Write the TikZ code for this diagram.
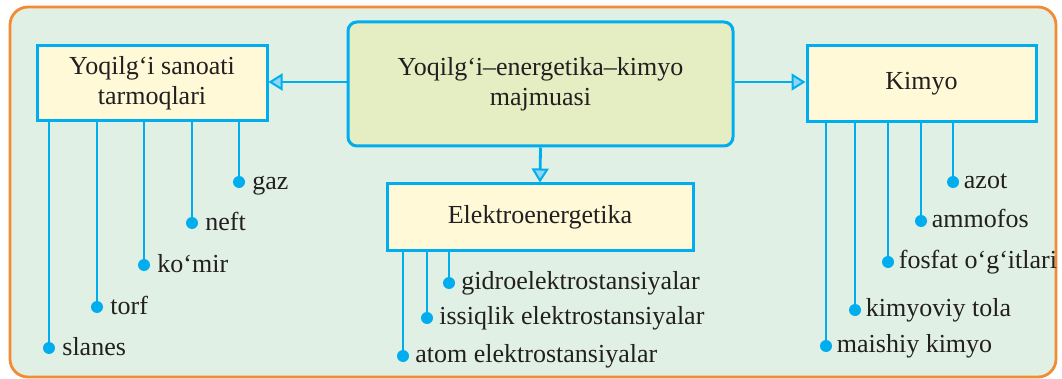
\documentclass[tikz,border=0pt]{standalone}
\usepackage{fontspec}
\setmainfont{Liberation Serif}
\newfontfamily\tms{Liberation Serif}
\usetikzlibrary{arrows.meta}
\definecolor{frameor}{HTML}{F28C33}
\definecolor{bgg}{HTML}{E1F0E5}
\definecolor{boxy}{HTML}{FFF9D7}
\definecolor{midg}{HTML}{E5EDC3}
\definecolor{cy}{HTML}{00AEEF}
\definecolor{arrf}{HTML}{8FD6F4}
\definecolor{txt}{HTML}{231F20}
\tikzset{
  box/.style={draw=cy, line width=3pt, fill=boxy, align=center, inner sep=0pt, text=txt, font=\tms\fontsize{26}{30}\selectfont},
  midbox/.style={box, fill=midg, rounded corners=9pt},
  conn/.style={draw=cy, line width=2.8pt},
  arr/.style={conn, -{Triangle[length=14pt, width=17pt, fill=arrf, line width=2pt]}},
  dot/.style={circle, fill=cy, minimum size=12pt, inner sep=0pt},
  lbl/.style={anchor=base west, inner sep=0pt, text=txt, font=\tms\fontsize{26}{30}\selectfont}
}
\begin{document}
\begin{tikzpicture}[x=1pt, y=-1pt]
\useasboundingbox (0,0) rectangle (1062,379);
\draw[draw=frameor, line width=2.8pt, fill=bgg, rounded corners=18pt] (10,7) rectangle (1056,377);

\node[midbox, minimum width=385pt, minimum height=124pt] (mid) at (540.5,84) {Yoqilg‘i–energetika–kimyo\\majmuasi};
\node[box, minimum width=230pt, minimum height=75pt] (yoq) at (152,83.5) {Yoqilg‘i sanoati\\tarmoqlari};
\node[box, minimum width=229pt, minimum height=76pt] (kim) at (921.5,84) {Kimyo};
\node[box, minimum width=306pt, minimum height=67pt] (ele) at (540,217.5) {Elektroenergetika};

\draw[arr] (mid.west |- 0,82) -- (yoq.east |- 0,82);
\draw[arr] (mid.east |- 0,82) -- (kim.west |- 0,82);
\draw[arr] (mid.south) -- (ele.north);

% left branches
\node[dot] (gaz) at (239,182) {};
\node[dot] (neft) at (192,223) {};
\node[dot] (komir) at (144,265) {};
\node[dot] (torf) at (97,307) {};
\node[dot] (slanes) at (49,348) {};
\foreach \n/\t in {gaz/gaz, neft/neft, komir/ko‘mir, torf/torf, slanes/slanes}{
  \draw[conn] (yoq.south -| \n) -- (\n.center);
  \node[lbl] (\n-l) at ([xshift=7pt, yshift=-7.5pt]\n.east) {\t};
}

% elektro branches
\node[dot] (gidro) at (449,283) {};
\node[dot] (issiq) at (427,318) {};
\node[dot] (atom) at (403,356) {};
\foreach \n/\t in {gidro/gidroelektrostansiyalar, issiq/issiqlik elektrostansiyalar, atom/atom elektrostansiyalar}{
  \draw[conn] (ele.south -| \n) -- (\n.center);
  \node[lbl] (\n-l) at ([xshift=6pt, yshift=-6.5pt]\n.east) {\t};
}

% kimyo branches
\node[dot] (azot) at (953,182) {};
\node[dot] (ammo) at (921,221) {};
\node[dot] (fosf) at (888,262) {};
\node[dot] (tola) at (855,310) {};
\node[dot] (maish) at (826,346) {};
\foreach \n/\t in {azot/azot, ammo/ammofos, fosf/fosfat o‘g‘itlari, tola/kimyoviy tola, maish/maishiy kimyo}{
  \draw[conn] (kim.south -| \n) -- (\n.center);
  \node[lbl] (\n-l) at ([xshift=4.5pt, yshift=-6.5pt]\n.east) {\t};
}
\end{tikzpicture}
\end{document}
